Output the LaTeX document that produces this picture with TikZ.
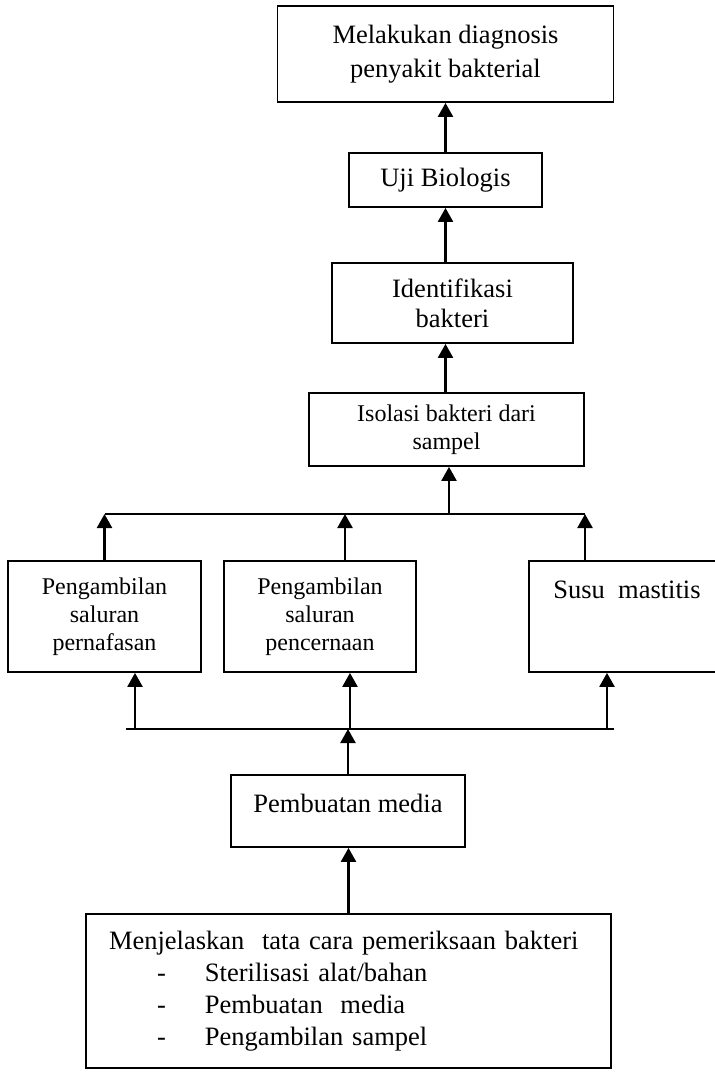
\documentclass[tikz,border=0pt]{standalone}
\usepackage{fontspec}
\setmainfont{Liberation Serif}
\usetikzlibrary{arrows.meta,positioning}

\newcommand{\butir}{\makebox[96pt][l]{\hspace*{48pt}-}}

\begin{document}
\begin{tikzpicture}[
    x=1pt, y=-1pt,
    box/.style={
        rectangle,
        draw=black,
        line width=1.8pt,
        inner sep=0pt,
        align=center,
        font=\fontsize{26.5}{30}\selectfont
    },
    smallbox/.style={
        box,
        font=\fontsize{24}{28}\selectfont
    },
    arrow/.style={
        -{Triangle[width=15pt,length=14pt]},
        line width=2.4pt
    },
    bar/.style={
        line width=2pt
    }
]

\useasboundingbox (0,0) rectangle (715,1072);

% Rantai atas
\node[smallbox, minimum width=275pt, minimum height=73pt] (isolasi) at (446.5,429.5) {Isolasi bakteri dari\\sampel};
\node[box, minimum width=241pt, minimum height=80pt, above of=isolasi, node distance=126.5pt, xshift=6pt] (identifikasi) {Identifikasi\\bakteri};
\node[box, minimum width=193pt, minimum height=54pt, above of=identifikasi, node distance=123pt, xshift=-7pt] (uji) {Uji Biologis};
\node[box, minimum width=336pt, minimum height=96pt, above of=uji, node distance=126pt, font=\fontsize{26.5}{34}\selectfont] (diagnosis) {Melakukan diagnosis\\penyakit bakterial};

% Sampel
\node[smallbox, minimum width=193pt, minimum height=111pt] (pernafasan) at (104.5,616.5) {Pengambilan\\saluran\\pernafasan};
\node[smallbox, minimum width=192pt, minimum height=111pt] (pencernaan) at (320,616.5) {Pengambilan\\saluran\\pencernaan};
\node[box, minimum width=196pt, text height=37pt, text depth=74pt] (mastitis) at (627,616.5) {Susu\ \ mastitis};

% Bawah
\node[box, minimum width=234pt, minimum height=72pt, text height=18pt, text depth=16pt] (media) at (348,811) {Pembuatan media};
\node[box, minimum width=525pt, minimum height=154pt, text width=479pt, align=left, font=\fontsize{26.5}{32}\selectfont] (penjelasan) at (348.5,991) {Menjelaskan\ \ tata cara pemeriksaan bakteri\\
\butir Sterilisasi alat/bahan\\
\butir Pembuatan\ \ media\\
\butir Pengambilan sampel};

% Garis cabang
\coordinate (barL) at (105,514);
\coordinate (barB) at (345,514);
\coordinate (barM) at (449,514);
\coordinate (barR) at (585,514);
\coordinate (lowL) at (126,729);
\coordinate (lowA) at (135,729);
\coordinate (lowB) at (350,729);
\coordinate (lowC) at (607,729);
\coordinate (lowR) at (614,729);

\draw[bar] (barL) -- (barR);
\draw[bar] (lowL) -- (lowR);

% Panah
\draw[arrow] (uji.north) -- (diagnosis.south);
\draw[arrow] (identifikasi.north -| uji) -- (uji.south);
\draw[arrow] (isolasi.north -| uji) -- (identifikasi.south -| uji);
\draw[arrow] (barM) -- (barM |- isolasi.south);

\draw[arrow] (pernafasan.north) -- (pernafasan.north |- barL);
\draw[arrow] (barB |- pencernaan.north) -- (barB);
\draw[arrow] (barR |- mastitis.north) -- (barR);

\draw[arrow] (lowA) -- (lowA |- pernafasan.south);
\draw[arrow] (lowB) -- (lowB |- pencernaan.south);
\draw[arrow] (lowC) -- (lowC |- mastitis.south);

\draw[arrow] (media.north) -- (media.north |- lowL);
\draw[arrow] (penjelasan.north) -- (penjelasan.north |- media.south);

\end{tikzpicture}
\end{document}
